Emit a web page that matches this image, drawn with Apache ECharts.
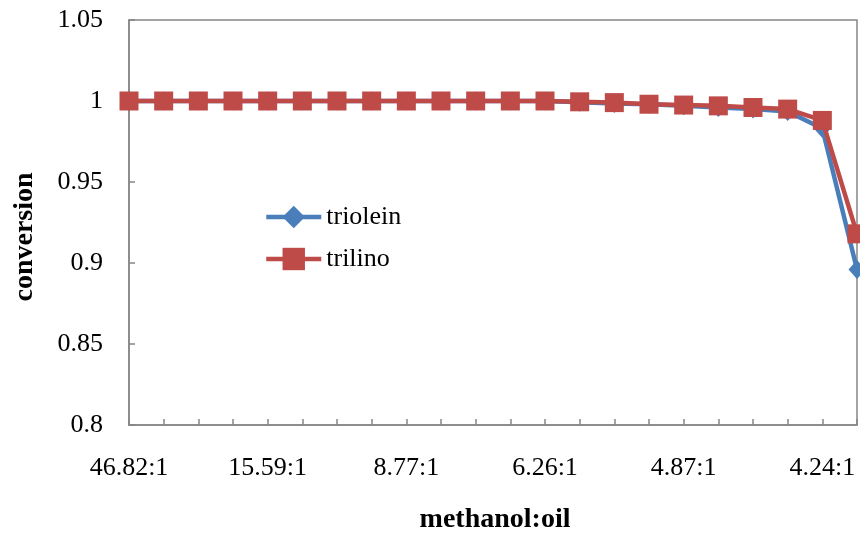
<!DOCTYPE html>
<html>
<head>
<meta charset="utf-8">
<script src="https://cdn.jsdelivr.net/npm/echarts@6/dist/echarts.min.js"></script>
<style>
  html, body { margin: 0; padding: 0; background: #fff; }
  #chart { width: 860px; height: 536px; }
</style>
</head>
<body>
<div id="chart"></div>
<script>
// Methanol:oil molar ratio along the column (only every 4th is labelled)
const ratios = [
  '46.82:1', '31.20:1', '23.40:1', '18.70:1',
  '15.59:1', '13.30:1', '11.60:1', '10.05:1',
  '8.77:1', '7.95:1', '7.25:1', '6.70:1',
  '6.26:1', '5.85:1', '5.45:1', '5.12:1',
  '4.87:1', '4.66:1', '4.49:1', '4.35:1',
  '4.24:1', '4.16:1'
];

// Conversion of each triglyceride
const triolein = [
  1.000, 1.000, 1.000, 1.000, 1.000, 1.000, 1.000, 1.000,
  1.000, 1.000, 1.000, 1.000, 1.000, 0.9993, 0.9985, 0.998,
  0.997, 0.996, 0.995, 0.9935, 0.983, 0.896
];
const trilino = [
  1.000, 1.000, 1.000, 1.000, 1.000, 1.000, 1.000, 1.000,
  1.000, 1.000, 1.000, 1.000, 1.000, 0.9995, 0.999, 0.998,
  0.9975, 0.997, 0.996, 0.995, 0.988, 0.918
];

// Value axis range
const yMin = 0.80, yMax = 1.05, yStep = 0.05;

const serif = '"Liberation Serif", "Times New Roman", serif';
const axisGray = '#868686';

const chart = echarts.init(document.getElementById('chart'), null, { renderer: 'canvas' });

chart.setOption({
  animation: false,
  grid: {
    left: 129, right: 3, top: 20, bottom: 111,
    show: true, borderColor: axisGray, borderWidth: 1.5, backgroundColor: 'transparent'
  },
  legend: {
    orient: 'vertical',
    left: 259, top: 199,
    itemWidth: 55, itemHeight: 28, itemGap: 16,
    lineStyle: { width: 4.5 },
    textStyle: { fontFamily: serif, fontSize: 26, color: '#000' },
    data: ['triolein', 'trilino']
  },
  xAxis: {
    type: 'category',
    data: ratios,
    boundaryGap: false,
    axisLine: { lineStyle: { color: axisGray, width: 1.5 } },
    axisTick: { inside: true, length: 6, interval: 0, lineStyle: { color: axisGray, width: 1.5 } },
    axisLabel: { interval: 3, margin: 30, fontFamily: serif, fontSize: 26, color: '#000' },
    splitLine: { show: false }
  },
  yAxis: {
    type: 'value',
    min: yMin, max: yMax, interval: yStep,
    axisLine: { show: true, lineStyle: { color: axisGray, width: 1.5 } },
    axisTick: { show: true, inside: true, length: 6, lineStyle: { color: axisGray, width: 1.5 } },
    axisLabel: {
      margin: 26, fontFamily: serif, fontSize: 26, color: '#000',
      formatter: v => String(+v.toFixed(2))
    },
    splitLine: { show: false }
  },
  graphic: [
    {
      type: 'text',
      x: 495, y: 520,
      style: {
        text: 'methanol:oil', font: 'bold 28px ' + serif, fill: '#000',
        align: 'center', verticalAlign: 'middle'
      }
    },
    {
      type: 'text',
      x: 25, y: 237, rotation: Math.PI / 2,
      style: {
        text: 'conversion', font: 'bold 28px ' + serif, fill: '#000',
        align: 'center', verticalAlign: 'middle'
      }
    }
  ],
  series: [
    {
      name: 'triolein',
      type: 'line',
      data: triolein,
      clip: false,
      symbol: 'diamond',
      symbolSize: [17, 19],
      itemStyle: { color: '#4A7EBB' },
      lineStyle: { color: '#4A7EBB', width: 4.5 },
      z: 2
    },
    {
      name: 'trilino',
      type: 'line',
      data: trilino,
      clip: false,
      symbol: 'rect',
      symbolSize: 19,
      itemStyle: { color: '#BE4B48' },
      lineStyle: { color: '#BE4B48', width: 4.5 },
      z: 3
    }
  ]
});
</script>
</body>
</html>
